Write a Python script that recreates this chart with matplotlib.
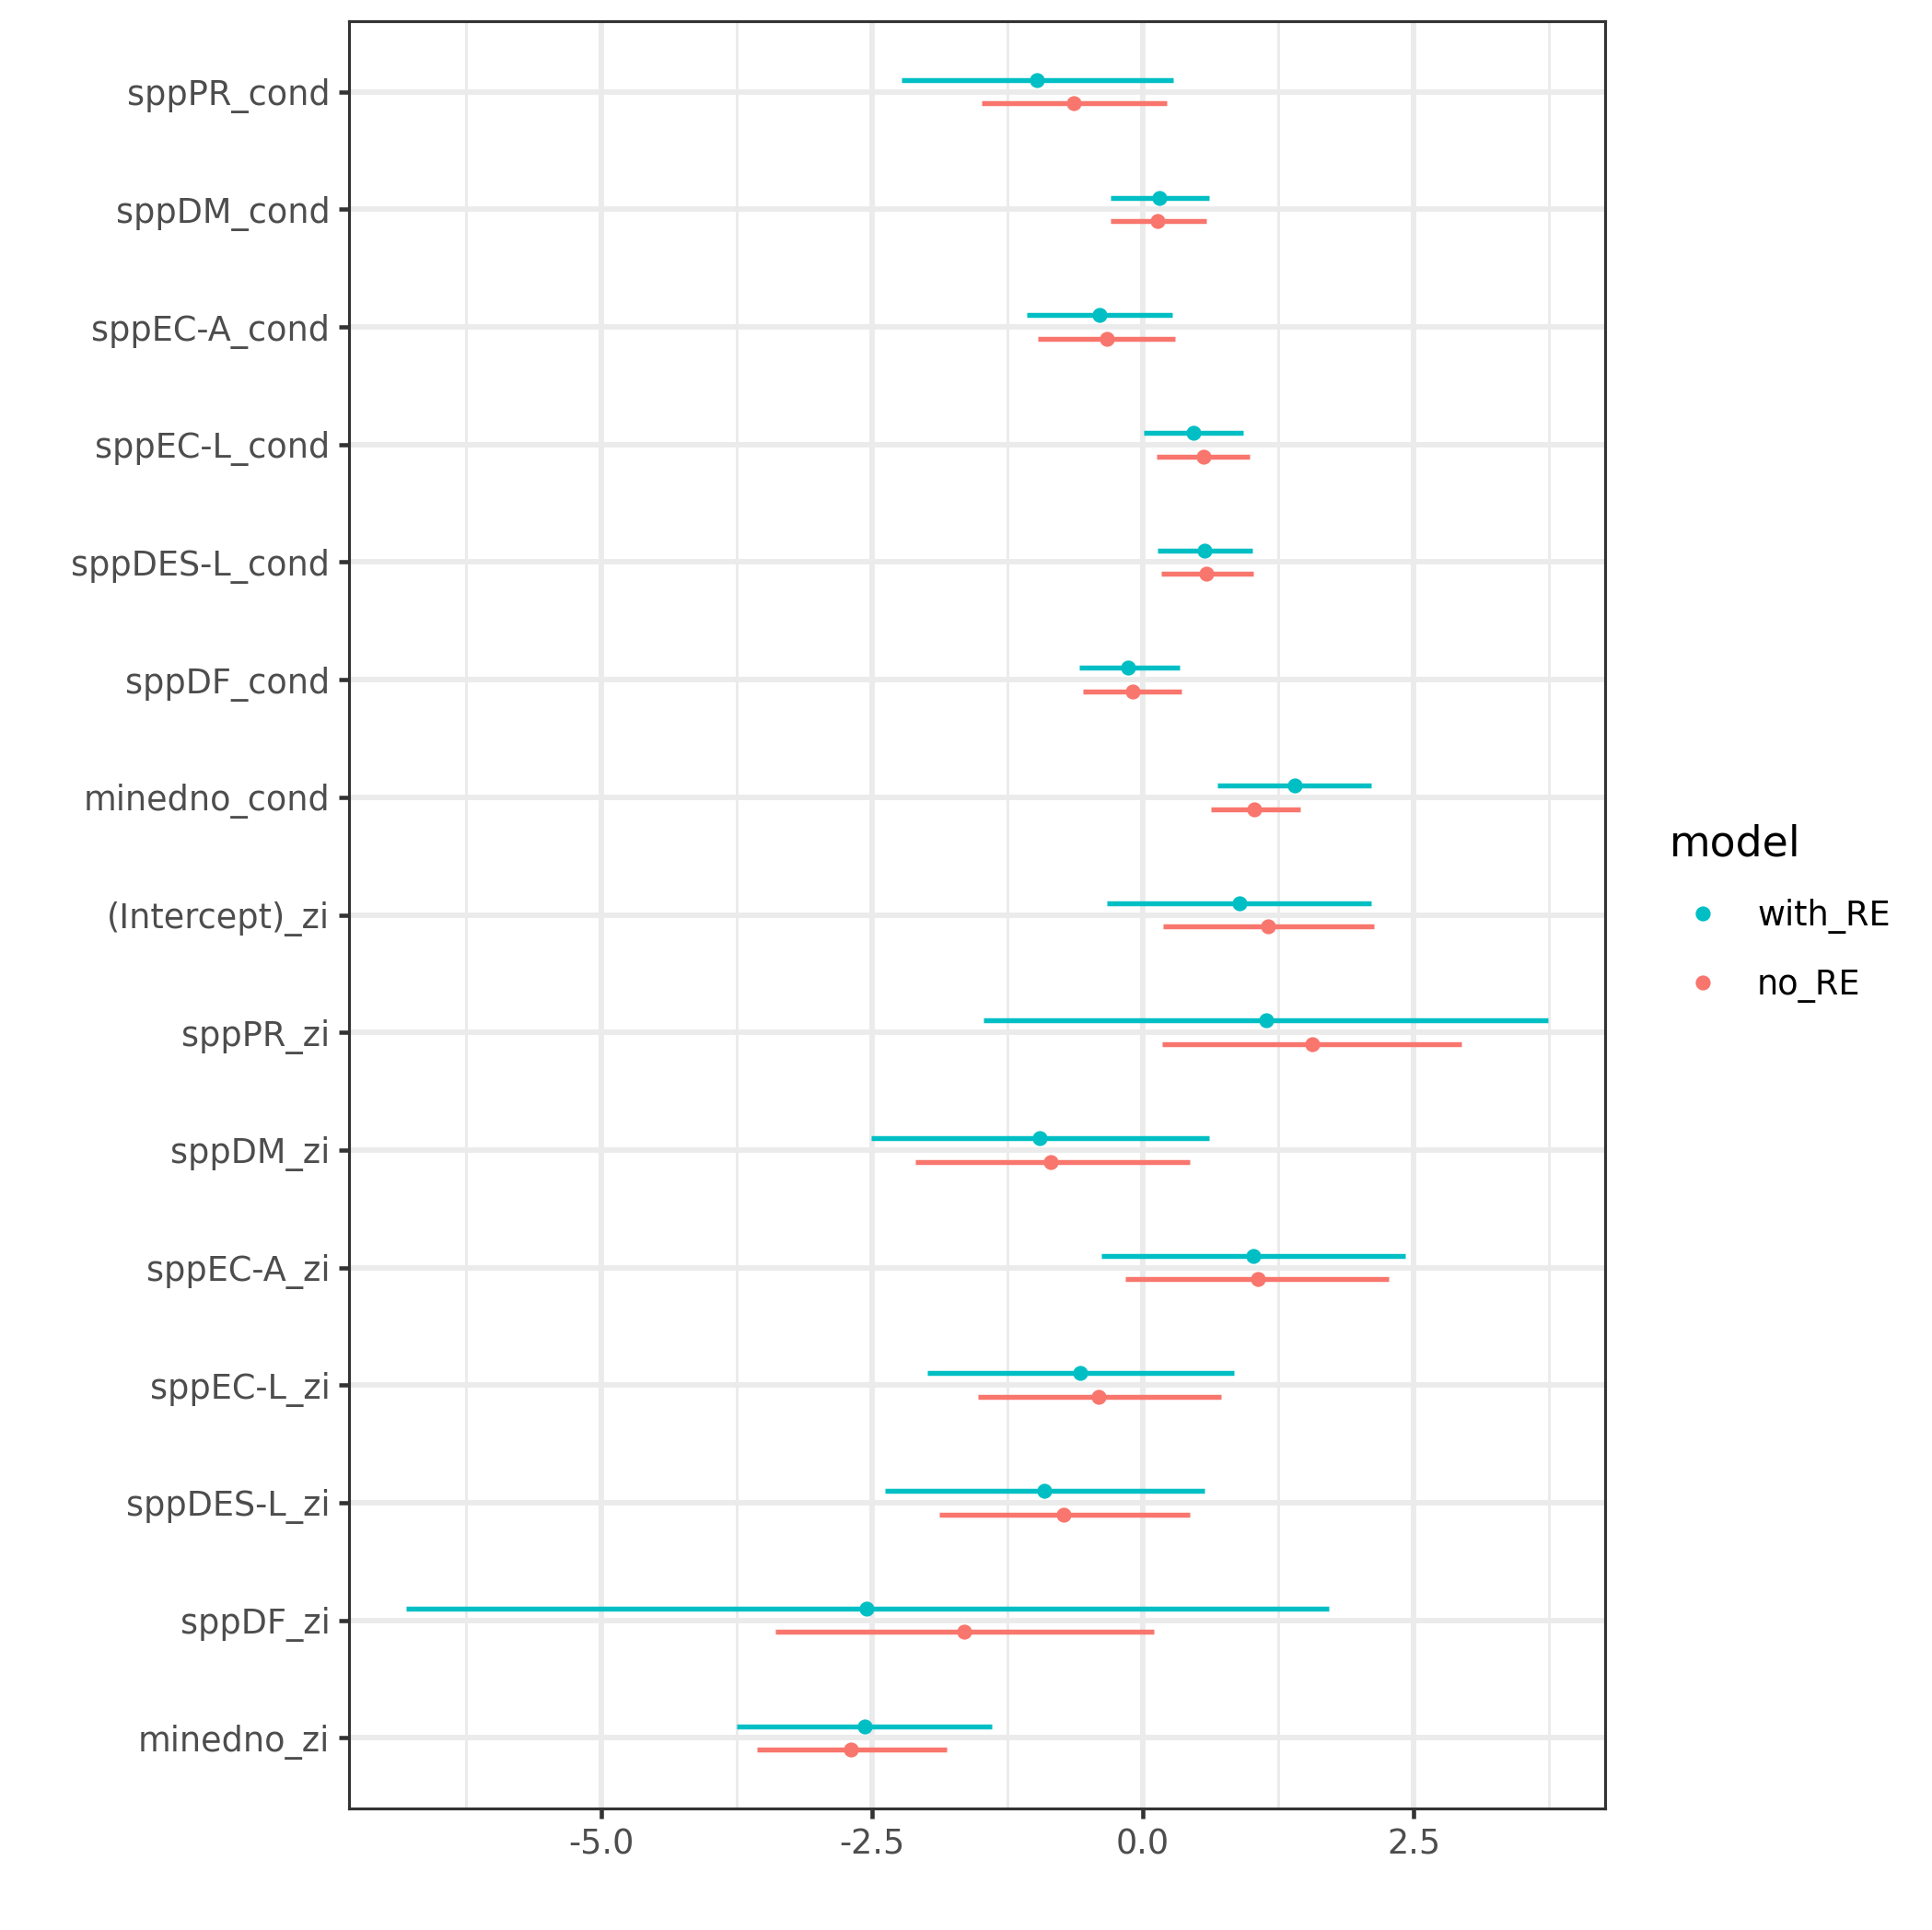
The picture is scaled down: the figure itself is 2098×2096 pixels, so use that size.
import numpy as np
import matplotlib.pyplot as plt
from matplotlib.lines import Line2D

# Coeficientes (de arriba hacia abajo)
terms = ['sppPR_cond', 'sppDM_cond', 'sppEC-A_cond', 'sppEC-L_cond', 'sppDES-L_cond',
         'sppDF_cond', 'minedno_cond', '(Intercept)_zi', 'sppPR_zi', 'sppDM_zi',
         'sppEC-A_zi', 'sppEC-L_zi', 'sppDES-L_zi', 'sppDF_zi', 'minedno_zi']

# modelo con efectos aleatorios
with_est = [-0.98, 0.15, -0.40, 0.47, 0.57, -0.14, 1.40, 0.89, 1.14, -0.95, 1.02, -0.58, -0.91, -2.55, -2.57]
with_lo = [-2.23, -0.30, -1.07, 0.01, 0.14, -0.59, 0.69, -0.33, -1.47, -2.51, -0.38, -1.99, -2.38, -6.80, -3.75]
with_hi = [0.28, 0.61, 0.27, 0.93, 1.01, 0.34, 2.11, 2.11, 3.74, 0.61, 2.42, 0.84, 0.57, 1.72, -1.39]

# modelo sin efectos aleatorios
no_est = [-0.64, 0.14, -0.33, 0.56, 0.59, -0.09, 1.03, 1.16, 1.56, -0.85, 1.06, -0.41, -0.73, -1.65, -2.69]
no_lo = [-1.49, -0.30, -0.97, 0.13, 0.17, -0.55, 0.63, 0.19, 0.18, -2.10, -0.16, -1.52, -1.88, -3.39, -3.56]
no_hi = [0.22, 0.59, 0.30, 0.99, 1.02, 0.36, 1.45, 2.13, 2.94, 0.43, 2.27, 0.72, 0.43, 0.10, -1.81]

col_with = '#00BFC4'
col_no = '#F8766D'
dodge = 0.1

n = len(terms)
ypos = np.arange(n)[::-1]

fig = plt.figure(figsize=(2098/300, 2096/300), dpi=300)
ax = fig.add_axes([0.1806, 0.0630, 0.8308-0.1806, 0.989-0.0630])

for est, lo, hi, col, off in [(with_est, with_lo, with_hi, col_with, dodge),
                              (no_est, no_lo, no_hi, col_no, -dodge)]:
    y = ypos + off
    ax.hlines(y, lo, hi, color=col, lw=1.3, zorder=3)
    ax.plot(est, y, 'o', color=col, ms=3.9, mew=0, zorder=4)

# límites con expansión estilo ggplot
allv = np.r_[with_lo, with_hi, no_lo, no_hi]
rng = allv.max() - allv.min()
ax.set_xlim(allv.min() - 0.05*rng, allv.max() + 0.05*rng)
ax.set_ylim(-0.6, n - 1 + 0.6)

ax.set_xticks([-5.0, -2.5, 0.0, 2.5])
ax.set_xticklabels(['-5.0', '-2.5', '0.0', '2.5'])
ax.set_xticks([-6.25, -3.75, -1.25, 1.25, 3.75], minor=True)
ax.set_yticks(ypos)
ax.set_yticklabels(terms)

ax.grid(True, which='major', color='#EBEBEB', lw=1.4, zorder=0)
ax.grid(True, which='minor', axis='x', color='#EBEBEB', lw=0.7, zorder=0)
ax.set_axisbelow(True)

for s in ax.spines.values():
    s.set_color('#333333')
    s.set_linewidth(0.75)

ax.tick_params(which='major', length=2.75, width=1.1, color='#333333',
               labelsize=8.8, labelcolor='#4D4D4D', pad=2.2)
ax.tick_params(which='minor', length=0)

handles = [Line2D([], [], marker='o', ls='none', color=col_with, ms=3.9, mew=0),
           Line2D([], [], marker='o', ls='none', color=col_no, ms=3.9, mew=0)]
leg = fig.legend(handles, ['with_RE', 'no_RE'], title='model', loc='center left',
                 bbox_to_anchor=(0.857, 0.527), frameon=False, fontsize=8.8,
                 title_fontsize=11, handletextpad=0.6, labelspacing=1.0,
                 borderaxespad=0)
leg._legend_box.align = 'left'

fig.savefig('out.png', dpi=300)
